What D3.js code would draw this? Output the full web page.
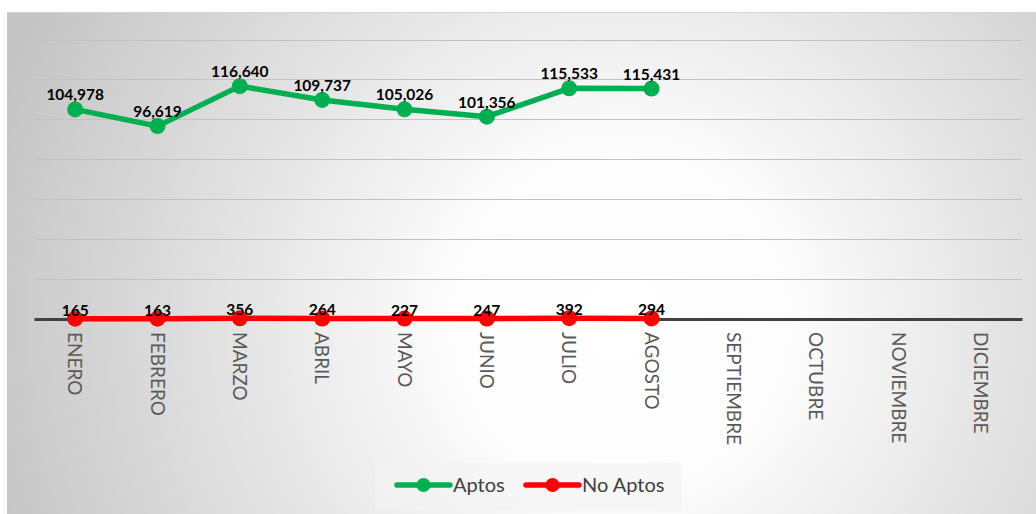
<!DOCTYPE html>
<html>
<head>
<meta charset="utf-8">
<script src="https://cdn.jsdelivr.net/npm/d3@7"></script>
<style>
  body { margin: 0; background: #fff; }
  svg { display: block; }
</style>
</head>
<body>
<div id="chart"></div>
<script>
// data
const months = ['ENERO', 'FEBRERO', 'MARZO', 'ABRIL', 'MAYO', 'JUNIO', 'JULIO',
                'AGOSTO', 'SEPTIEMBRE', 'OCTUBRE', 'NOVIEMBRE', 'DICIEMBRE'];
const aptos = [104978, 96619, 116640, 109737, 105026, 101356, 115533, 115431];
const noAptos = [165, 163, 356, 264, 227, 247, 392, 294];
const yTicks = [0, 20000, 40000, 60000, 80000, 100000, 120000, 140000];
const seriesNames = ['Aptos', 'No Aptos'];

const W = 1036, H = 514;
const margin = {top: 40, right: 14, bottom: 195, left: 34};

const svg = d3.select('#chart').append('svg')
    .attr('width', W)
    .attr('height', H);

const defs = svg.append('defs');
const grad = defs.append('radialGradient')
    .attr('id', 'bg')
    .attr('gradientUnits', 'userSpaceOnUse')
    .attr('cx', 620).attr('cy', 320).attr('r', 660);
grad.append('stop').attr('offset', '0%').attr('stop-color', '#ffffff');
grad.append('stop').attr('offset', '25%').attr('stop-color', '#fdfdfd');
grad.append('stop').attr('offset', '100%').attr('stop-color', '#c4c4c4');

// chart area background
svg.append('rect')
    .attr('x', 7).attr('y', 12)
    .attr('width', W - 7).attr('height', H - 12)
    .attr('fill', 'url(#bg)');
svg.append('line')
    .attr('x1', 7).attr('x2', W).attr('y1', 12.5).attr('y2', 12.5)
    .attr('stroke', '#d4d4d4');
svg.append('line')
    .attr('x1', 7.5).attr('x2', 7.5).attr('y1', 12).attr('y2', H)
    .attr('stroke', '#c8c8c8');

const x = d3.scaleBand()
    .domain(months)
    .range([margin.left, W - margin.right]);

const y = d3.scaleLinear()
    .domain([0, 140000])
    .range([H - margin.bottom, margin.top - 0.5]);

// gridlines
svg.append('g')
    .selectAll('line')
    .data(yTicks.slice(1))
    .join('line')
    .attr('x1', margin.left).attr('x2', W - margin.right)
    .attr('y1', d => Math.round(y(d)) + 0.5)
    .attr('y2', d => Math.round(y(d)) + 0.5)
    .attr('stroke', '#c2c2c2')
    .attr('stroke-width', 1);

// x axis
const xAxis = d3.axisBottom(x).tickSize(0).tickPadding(0);
const gx = svg.append('g')
    .attr('transform', `translate(0,${y(0)})`)
    .call(xAxis);
gx.select('.domain')
    .attr('stroke', '#404040')
    .attr('stroke-width', 3);
gx.selectAll('text')
    .attr('transform', 'rotate(90)')
    .attr('x', 13)
    .attr('y', 0)
    .attr('dy', '0.36em')
    .attr('text-anchor', 'start')
    .attr('fill', '#595959')
    .style('font-family', 'Lato, "Open Sans", sans-serif')
    .style('font-size', '19px');

const cx = d => x(d) + x.bandwidth() / 2;

const series = [
    {name: seriesNames[0], values: aptos, color: '#00b050', off: -9},
    {name: seriesNames[1], values: noAptos, color: '#ff0000', off: -3}
];

series.forEach(s => {
    const pts = s.values.map((v, i) => ({m: months[i], v: v}));
    const line = d3.line()
        .x(d => cx(d.m))
        .y(d => y(d.v));

    svg.append('path')
        .datum(pts)
        .attr('d', line)
        .attr('fill', 'none')
        .attr('stroke', s.color)
        .attr('stroke-width', 5.5)
        .attr('stroke-linejoin', 'round');

    svg.append('g')
        .selectAll('circle')
        .data(pts)
        .join('circle')
        .attr('cx', d => cx(d.m))
        .attr('cy', d => y(d.v))
        .attr('r', 8)
        .attr('fill', s.color);

    svg.append('g')
        .selectAll('text')
        .data(pts)
        .join('text')
        .attr('x', d => cx(d.m))
        .attr('y', d => y(d.v) + s.off)
        .attr('text-anchor', 'middle')
        .attr('fill', '#000')
        .style('font-family', 'Lato, "Open Sans", sans-serif')
        .style('font-weight', 'bold')
        .style('font-size', '15.5px')
        .text(d => d3.format(',')(d.v));
});

// legend
const lg = svg.append('g');
lg.append('rect')
    .attr('x', 375).attr('y', 463)
    .attr('width', 307).attr('height', 47)
    .attr('fill', '#f4f4f4')
    .attr('opacity', 0.6);

const legendX = [397, 526];
series.forEach((s, i) => {
    const g = lg.append('g').attr('transform', `translate(${legendX[i]},485)`);
    g.append('line')
        .attr('x1', 0).attr('x2', 53)
        .attr('stroke', s.color)
        .attr('stroke-width', 5.5)
        .attr('stroke-linecap', 'round');
    g.append('circle')
        .attr('cx', 26.5).attr('r', 7)
        .attr('fill', s.color);
    g.append('text')
        .attr('x', 56)
        .attr('dy', '0.36em')
        .attr('fill', '#404040')
        .style('font-family', 'Lato, "Open Sans", sans-serif')
        .style('font-size', '20px')
        .text(s.name);
});
</script>
</body>
</html>
